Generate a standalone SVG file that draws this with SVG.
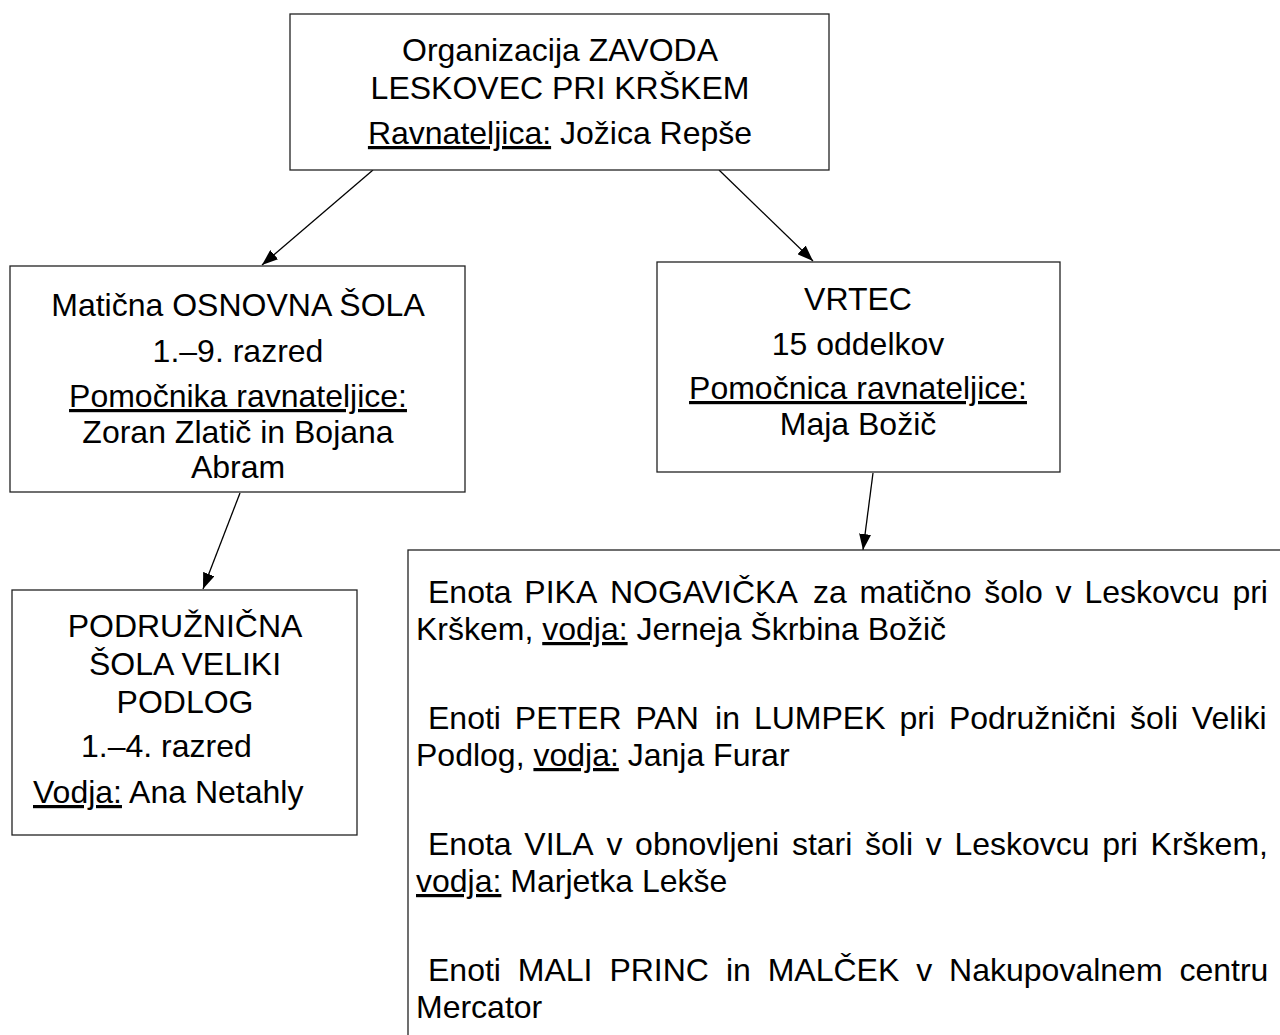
<svg xmlns="http://www.w3.org/2000/svg" width="1280" height="1035" viewBox="0 0 1280 1035">
<style>
.box{fill:#fff;stroke:#222;stroke-width:1.3}
.t{font-family:"Liberation Sans",Arial,sans-serif;font-size:32px;fill:#000}
.c{text-anchor:middle}
.e{text-anchor:end}
.u{text-decoration:underline}
.conn{stroke:#000;stroke-width:1.3;fill:none;marker-end:url(#ah)}
</style>
<defs>
<marker id="ah" viewBox="0 0 16 12" refX="16" refY="6" markerWidth="16" markerHeight="12" markerUnits="userSpaceOnUse" orient="auto">
<path d="M0,0 L16,6 L0,12 z" fill="#000"/>
</marker>
</defs>
<rect width="1280" height="1035" fill="#fff"/>

<g id="connectors">
<line class="conn" x1="373" y1="170" x2="262" y2="265"/>
<line class="conn" x1="719" y1="170" x2="813" y2="261"/>
<line class="conn" x1="240" y1="493" x2="203" y2="589"/>
<line class="conn" x1="873" y1="473" x2="863" y2="550"/>
</g>

<g id="node-zavod">
<rect class="box" x="290" y="14" width="539" height="156"/>
<text class="t c" x="560" y="61">Organizacija ZAVODA</text>
<text class="t c" x="560" y="99">LESKOVEC PRI KRŠKEM</text>
<text class="t c" x="560" y="144"><tspan class="u">Ravnateljica:</tspan> Jožica Repše</text>
</g>

<g id="node-sola">
<rect class="box" x="10" y="266" width="455" height="226"/>
<text class="t c" x="238" y="316">Matična OSNOVNA ŠOLA</text>
<text class="t c" x="238" y="362">1.–9. razred</text>
<text class="t c" x="238" y="407"><tspan class="u">Pomočnika ravnateljice:</tspan></text>
<text class="t c" x="238" y="443">Zoran Zlatič in Bojana</text>
<text class="t c" x="238" y="478">Abram</text>
</g>

<g id="node-vrtec">
<rect class="box" x="657" y="262" width="403" height="210"/>
<text class="t c" x="858" y="310">VRTEC</text>
<text class="t c" x="858" y="355">15 oddelkov</text>
<text class="t c" x="858" y="399"><tspan class="u">Pomočnica ravnateljice:</tspan></text>
<text class="t c" x="858" y="435">Maja Božič</text>
</g>

<g id="node-podruznicna">
<rect class="box" x="12" y="590" width="345" height="245"/>
<text class="t c" x="185" y="637">PODRUŽNIČNA</text>
<text class="t c" x="185" y="675">ŠOLA VELIKI</text>
<text class="t c" x="185" y="713">PODLOG</text>
<text class="t" x="81" y="757">1.–4. razred</text>
<text class="t" x="33" y="803"><tspan class="u">Vodja:</tspan> Ana Netahly</text>
</g>

<g id="node-enote">
<rect class="box" x="408" y="550" width="900" height="600"/>
<text class="t" y="603"><tspan x="428">Enota</tspan><tspan x="524.3">PIKA</tspan><tspan x="609.9">NOGAVIČKA</tspan><tspan x="812.9">za</tspan><tspan x="859.4">matično</tspan><tspan x="984.2">šolo</tspan><tspan x="1055.6">v</tspan><tspan x="1084.4">Leskovcu</tspan><tspan x="1232.4">pri</tspan></text>
<text class="t" x="416" y="640">Krškem, <tspan class="u">vodja:</tspan> Jerneja Škrbina Božič</text>
<text class="t" y="729"><tspan x="428">Enoti</tspan><tspan x="514.8">PETER</tspan><tspan x="635.4">PAN</tspan><tspan x="715.1">in</tspan><tspan x="753.9">LUMPEK</tspan><tspan x="899.4">pri</tspan><tspan x="948.9">Podružnični</tspan><tspan x="1130">šoli</tspan><tspan x="1191.8">Veliki</tspan></text>
<text class="t" x="416" y="766">Podlog, <tspan class="u">vodja:</tspan> Janja Furar</text>
<text class="t" y="855"><tspan x="428">Enota</tspan><tspan x="524.3">VILA</tspan><tspan x="606.4">v</tspan><tspan x="635.1">obnovljeni</tspan><tspan x="791.9">stari</tspan><tspan x="865">šoli</tspan><tspan x="925.7">v</tspan><tspan x="954.4">Leskovcu</tspan><tspan x="1102.3">pri</tspan><tspan x="1150.6">Krškem,</tspan></text>
<text class="t" x="416" y="892"><tspan class="u">vodja:</tspan> Marjetka Lekše</text>
<text class="t" y="981"><tspan x="428">Enoti</tspan><tspan x="517.8">MALI</tspan><tspan x="609.4">PRINC</tspan><tspan x="725.9">in</tspan><tspan x="767.7">MALČEK</tspan><tspan x="916.2">v</tspan><tspan x="949.1">Nakupovalnem</tspan><tspan x="1179.4">centru</tspan></text>
<text class="t" x="416" y="1018">Mercator</text>
</g>
</svg>
